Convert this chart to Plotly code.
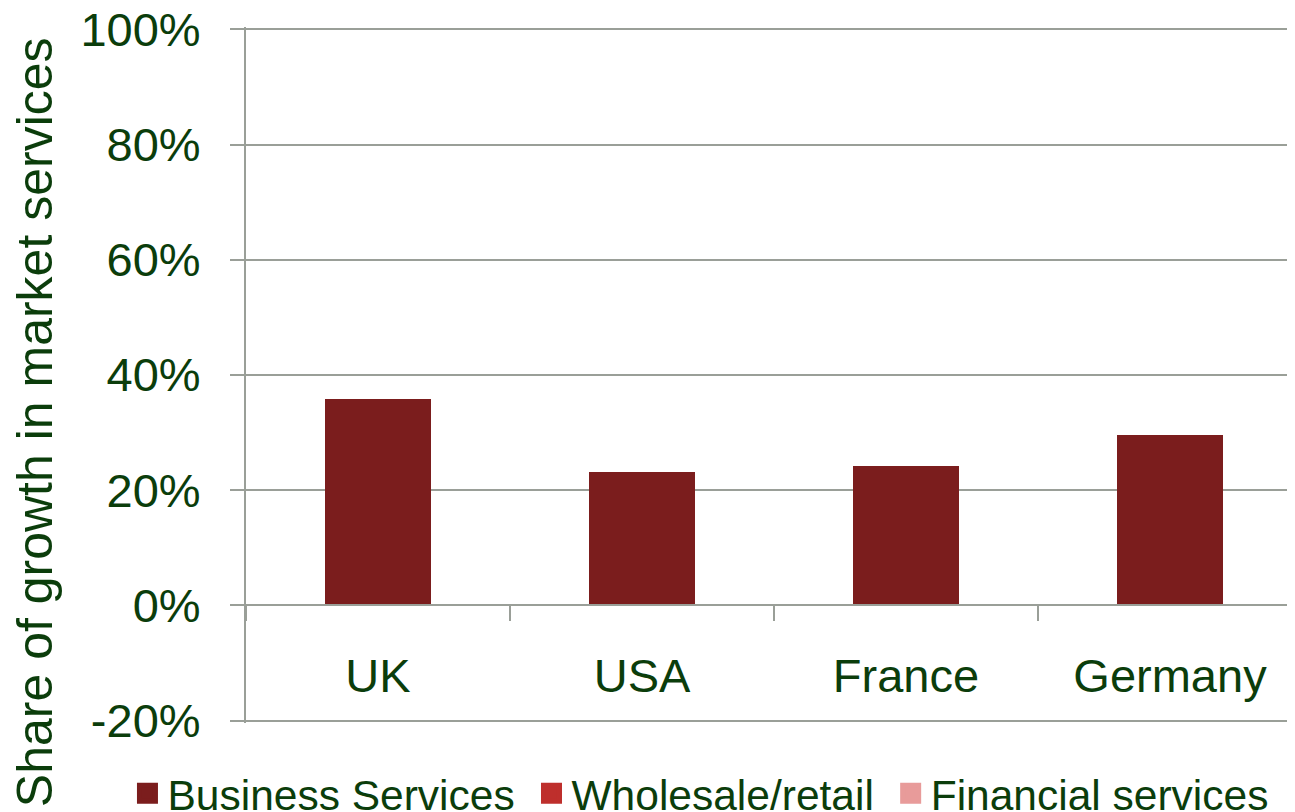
import plotly.graph_objects as go

categories = ["UK", "USA", "France", "Germany"]
business_services = [35.8, 23.1, 24.2, 29.6]
wholesale_retail = [0, 0, 0, 0]
financial_services = [0, 0, 0, 0]
series_names = ["Business Services", "Wholesale/retail", "Financial services"]
series_colors = ["#7B1D1D", "#BE2F2C", "#E89B9A"]
y_tick_values = [-20, 0, 20, 40, 60, 80, 100]
y_tick_labels = ["-20%", "0%", "20%", "40%", "60%", "80%", "100%"]
y_title = "Share of growth in market services"

FONT = "Liberation Sans, Arial, sans-serif"
TEXT = "#0B3D0B"
GRID = "#9A9F98"

fig = go.Figure()
series_values = [business_services, wholesale_retail, financial_services]
for i, (name, vals, col) in enumerate(zip(series_names, series_values, series_colors)):
    fig.add_trace(go.Bar(name=name, x=categories, y=vals, width=0.4,
                         marker=dict(color=col, line=dict(width=0)),
                         legendgroup=name, showlegend=False))
    # legend entry with a larger square symbol (non-breaking space widens the gap between entries)
    legend_label = name + ("\u00a0" if i < len(series_names) - 1 else "")
    fig.add_trace(go.Scatter(name=legend_label, x=[None], y=[None], mode="markers",
                             marker=dict(symbol="square", size=16, color=col,
                                         line=dict(color=col, width=5)),
                             legendgroup=name, showlegend=True, hoverinfo="skip"))

fig.update_layout(
    width=1287, height=804,
    barmode="stack",
    paper_bgcolor="white", plot_bgcolor="white",
    margin=dict(l=238, r=0, t=18.7, b=89.2, autoexpand=False),
    font=dict(family=FONT, size=47, color=TEXT),
    showlegend=True,
    legend=dict(orientation="h", x=-0.113, xanchor="left", y=-0.1015, yanchor="middle",
                font=dict(size=42.5, color=TEXT), bgcolor="rgba(0,0,0,0)",
                traceorder="normal", itemsizing="trace"),
    xaxis=dict(
        range=[-0.5, 3.4735], anchor="free", position=20.4 / 120.8,
        showline=True, linecolor=GRID, linewidth=2,
        ticks="outside", tickson="boundaries", ticklen=15, tickwidth=2, tickcolor=GRID,
        showgrid=False, zeroline=False,
        tickfont=dict(size=47, color=TEXT), ticklabelstandoff=29,
    ),
    yaxis=dict(
        range=[-20.4, 100.4], tickvals=y_tick_values, ticktext=y_tick_labels,
        showline=True, linecolor=GRID, linewidth=2,
        showgrid=True, gridcolor=GRID, gridwidth=2,
        ticks="outside", ticklen=14, tickwidth=2, tickcolor=GRID,
        zeroline=False, ticklabeloverflow="allow",
        tickfont=dict(size=47, color=TEXT), ticklabelstandoff=20,
    ),
    annotations=[dict(text=y_title, xref="paper", yref="paper",
                      x=-0.2015, y=0.4317, xanchor="center", yanchor="middle",
                      textangle=-90, showarrow=False,
                      font=dict(size=50, color=TEXT, family=FONT))],
)

fig.write_html("out.html")
